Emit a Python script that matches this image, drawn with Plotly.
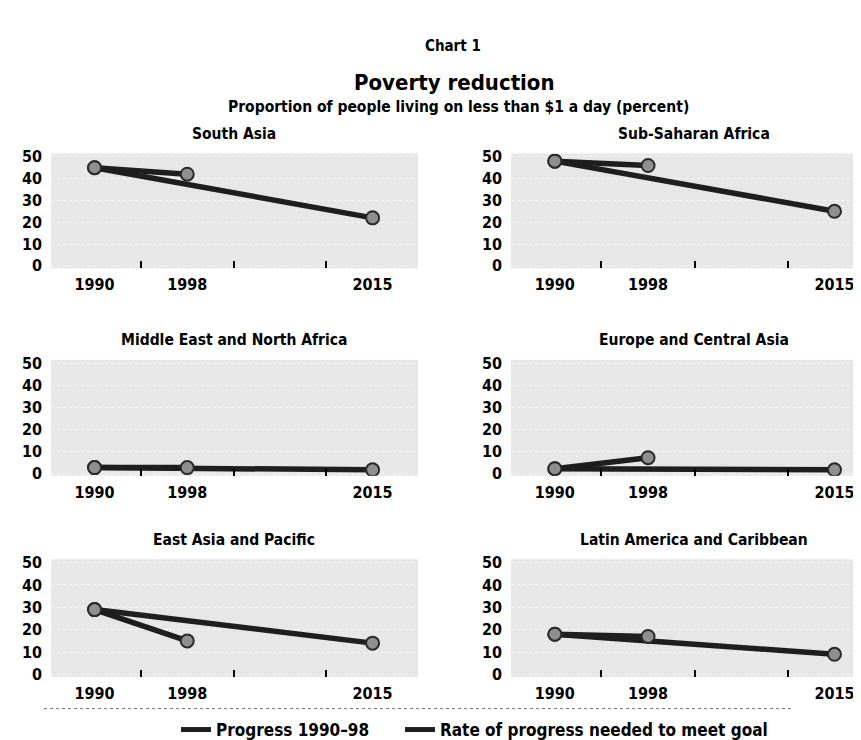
import plotly.graph_objects as go

# ---- data ----
regions = ["South Asia", "Sub-Saharan Africa",
           "Middle East and North Africa", "Europe and Central Asia",
           "East Asia and Pacific", "Latin America and Caribbean"]
# category axis: 1990, 1998, (empty slot), 2015
x_categories = ["1990", "1998", " ", "2015"]
years_progress = ["1990", "1998"]
years_goal = ["1990", "2015"]
v1990 = [45, 48, 2.5, 2, 29, 18]
v1998 = [42, 46, 2.5, 7, 15, 17]
v2015_goal = [22, 25, 1.5, 1.5, 14, 9]
y_tick_vals = [0, 10, 20, 30, 40, 50]
legend_names = ["Progress 1990\u201398", "Rate of progress needed to meet goal"]

W, H = 861, 740
FONT = "Liberation Sans Narrow, DejaVu Sans Condensed, Arial Narrow, sans-serif"
LINE = "#1e1e1e"
BOLD = "bold"

# panel pixel boxes (left, right, top, bottom)
cols_px = [(43, 410), (503, 861)]
cols_xrange = [[-0.47, 3.49], [-0.47, 3.37]]
title_cx = [226, 686]
rows_px = [(142, 259), (352, 470), (555, 675)]
legend_left_px = [168, 392]

fig = go.Figure()
for i, name in enumerate(regions):
    r, c = divmod(i, 2)
    n = i + 1
    xa = "x" if n == 1 else f"x{n}"
    ya = "y" if n == 1 else f"y{n}"
    mk = dict(size=13, color="#8f8f8f", line=dict(color="#2a2a2a", width=2))
    fig.add_trace(go.Scatter(
        x=years_goal, y=[v1990[i], v2015_goal[i]], xaxis=xa, yaxis=ya,
        mode="lines+markers", showlegend=False,
        line=dict(color=LINE, width=5.5), marker=mk, hoverinfo="skip"))
    fig.add_trace(go.Scatter(
        x=years_progress, y=[v1990[i], v1998[i]], xaxis=xa, yaxis=ya,
        mode="lines+markers", showlegend=False,
        line=dict(color=LINE, width=5.5), marker=mk, hoverinfo="skip"))
    l, rr = cols_px[c]
    t, b = rows_px[r]
    x0, x1 = l / W, min(rr / W, 1.0)
    y0, y1 = 1 - b / H, 1 - t / H
    axkey = "xaxis" if n == 1 else f"xaxis{n}"
    aykey = "yaxis" if n == 1 else f"yaxis{n}"
    fig.update_layout(**{
        axkey: dict(domain=[x0, x1], anchor=ya, type="category",
                    categoryorder="array", categoryarray=x_categories,
                    range=cols_xrange[c], tickson="boundaries",
                    ticks="inside", ticklen=7, tickwidth=2, tickcolor="#000",
                    showgrid=False, zeroline=False, showline=False,
                    ticklabelstandoff=5,
                    tickfont=dict(family=FONT, size=16, color="#000", weight=BOLD)),
        aykey: dict(domain=[y0, y1], anchor=xa, range=[-1.2, 51.5],
                    tickvals=y_tick_vals, ticks="", showgrid=True,
                    gridcolor="#f6f6f6", griddash="dot", gridwidth=1,
                    zeroline=False, showline=False, ticklabelstandoff=8,
                    tickfont=dict(family=FONT, size=16, color="#000", weight=BOLD)),
    })
    fig.add_annotation(text=f"<b>{name}</b>", xref="paper", yref="paper",
                       x=title_cx[c] / W, y=1 - (t - 20) / H, showarrow=False,
                       font=dict(family=FONT, size=15.5, color="#000"),
                       xanchor="center", yanchor="middle")

# legend-only traces, each in its own legend box
legend_ids = ["legend", "legend2"]
for nm, lg in zip(legend_names, legend_ids):
    fig.add_trace(go.Scatter(x=[None], y=[None], mode="lines", name=nm,
                             legend=lg, line=dict(color=LINE, width=5)))

# headings
fig.add_annotation(text="<b>Chart 1</b>", xref="paper", yref="paper",
                   x=445 / W, y=1 - 21 / H, showarrow=False,
                   font=dict(family=FONT, size=15, color="#000"))
fig.add_annotation(text="<b>Poverty reduction</b>", xref="paper", yref="paper",
                   x=447 / W, y=1 - 55 / H, showarrow=False,
                   font=dict(family=FONT, size=22, color="#000"))
fig.add_annotation(text="<b>Proportion of people living on less than $1 a day (percent)</b>",
                   xref="paper", yref="paper", x=450 / W, y=1 - 83 / H, showarrow=False,
                   font=dict(family=FONT, size=15.5, color="#000"))

# dotted separator above legend
fig.add_shape(type="line", xref="paper", yref="paper",
              x0=36 / W, x1=786 / W, y0=1 - 707 / H, y1=1 - 707 / H,
              line=dict(color="#777", width=1, dash="dot"))

legend_style = dict(orientation="h", xanchor="left", y=1 - 729 / H,
                    yanchor="middle",
                    font=dict(family=FONT, size=17, color="#000", weight=BOLD),
                    itemwidth=30, bgcolor="rgba(0,0,0,0)")

fig.update_layout(
    width=W, height=H, margin=dict(l=0, r=0, t=0, b=0),
    paper_bgcolor="white", plot_bgcolor="#e7e7e7",
    font=dict(family=FONT, color="#000"),
    showlegend=True,
    legend=dict(x=legend_left_px[0] / W, **legend_style),
    legend2=dict(x=legend_left_px[1] / W, **legend_style),
)

fig.write_html("out.html")
